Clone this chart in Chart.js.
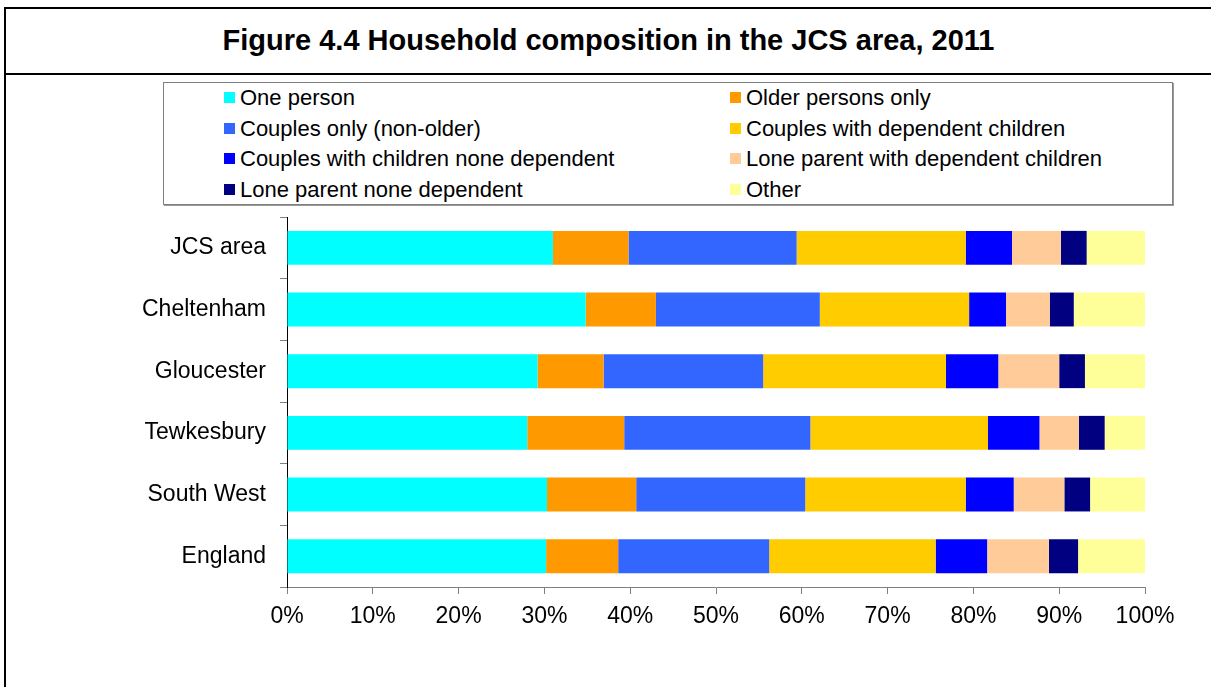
<!DOCTYPE html>
<html>
<head>
<meta charset="utf-8">
<script src="https://cdn.jsdelivr.net/npm/chart.js@4"></script>
<style>
  html, body { margin: 0; padding: 0; background: #fff; }
  body { width: 1211px; height: 687px; position: relative; overflow: hidden; font-family: "Liberation Sans", Arial, sans-serif; }
  #frame-left { position: absolute; left: 4px; top: 7px; width: 2px; height: 690px; background: #000; }
  #frame-top { position: absolute; left: 4px; top: 7px; width: 1220px; height: 2px; background: #000; }
  #frame-sep { position: absolute; left: 4px; top: 73px; width: 1220px; height: 2px; background: #000; }
  #title { position: absolute; left: 6px; right: 0; top: 24px; text-align: center; font-weight: bold; font-size: 29px; color: #000; }
  #legend { position: absolute; left: 163px; top: 82px; width: 1008px; height: 121px; border: 1px solid #808080; box-shadow: 1px 1px 0 #999; }
  .item { position: absolute; font-size: 22px; color: #000; white-space: nowrap; line-height: 24px; }
  .item span { display: inline-block; width: 11px; height: 11px; margin-right: 5px; vertical-align: 2px; }
  #wrap { position: absolute; left: 0; top: 0; width: 1211px; height: 687px; }
</style>
</head>
<body>
<div id="frame-left"></div>
<div id="frame-top"></div>
<div id="frame-sep"></div>
<div id="title">Figure 4.4 Household composition in the JCS area, 2011</div>
<div id="legend"></div>
<div id="wrap"><canvas id="chart" width="1211" height="687"></canvas></div>
<script>
// Household composition shares (%)
const areas = ["JCS area", "Cheltenham", "Gloucester", "Tewkesbury", "South West", "England"];
const seriesNames = [
  "One person", "Older persons only",
  "Couples only (non-older)", "Couples with dependent children",
  "Couples with children none dependent", "Lone parent with dependent children",
  "Lone parent none dependent", "Other"
];
const seriesColors = ["#00FFFF", "#FF9900", "#3366FF", "#FFCC00", "#0000FF", "#FFCC99", "#000080", "#FFFF99"];

const onePerson      = [31.0, 34.8, 29.2, 28.0, 30.3, 30.2];
const olderOnly      = [8.8, 8.2, 7.7, 11.3, 10.4, 8.4];
const couplesOnly    = [19.6, 19.1, 18.6, 21.7, 19.7, 17.6];
const couplesDepKids = [19.7, 17.4, 21.3, 20.7, 18.7, 19.4];
const couplesNonDep  = [5.4, 4.3, 6.1, 6.0, 5.6, 6.0];
const loneDepKids    = [5.7, 5.1, 7.1, 4.6, 5.9, 7.2];
const loneNonDep     = [3.0, 2.8, 3.0, 3.0, 3.0, 3.4];
const other          = [6.8, 8.3, 7.0, 4.7, 6.4, 7.8];

const seriesValues = [onePerson, olderOnly, couplesOnly, couplesDepKids, couplesNonDep, loneDepKids, loneNonDep, other];
const xTicks = [0, 10, 20, 30, 40, 50, 60, 70, 80, 90, 100];

// HTML legend in two columns, like the original
const legendBox = document.getElementById("legend");
seriesNames.forEach((name, i) => {
  const div = document.createElement("div");
  div.className = "item";
  div.style.left = (i % 2 === 0 ? 60 : 566) + "px";
  div.style.top = (3 + Math.floor(i / 2) * 30.7) + "px";
  div.innerHTML = `<span style="background:${seriesColors[i]}"></span>${name}`;
  legendBox.appendChild(div);
});

const font = { family: "'Liberation Sans', Arial, sans-serif", size: 23 };

new Chart(document.getElementById("chart"), {
  type: "bar",
  data: {
    labels: areas,
    datasets: seriesNames.map((name, i) => ({
      label: name,
      data: seriesValues[i],
      backgroundColor: seriesColors[i],
      borderWidth: 0,
      barPercentage: 0.55,
      categoryPercentage: 1
    }))
  },
  options: {
    indexAxis: "y",
    responsive: false,
    animation: false,
    layout: { padding: { left: 0, top: 217, right: 66, bottom: 0 } },
    plugins: { legend: { display: false }, tooltip: { enabled: false } },
    scales: {
      x: {
        stacked: true,
        min: 0,
        max: 100,
        afterBuildTicks: (scale) => { scale.ticks = xTicks.map(v => ({ value: v })); },
        afterFit: (scale) => { scale.height = 100; },
        border: { color: "#808080", width: 1 },
        grid: { drawOnChartArea: false, drawTicks: true, tickLength: 7, color: "#808080" },
        ticks: { color: "#000", font, padding: 9, callback: v => v + "%" }
      },
      y: {
        stacked: true,
        afterFit: (scale) => { scale.width = 287; },
        border: { color: "#000", width: 1 },
        grid: { drawOnChartArea: false, drawTicks: true, tickLength: 7, color: "#808080", offset: true },
        ticks: { color: "#000", font, padding: 14 }
      }
    }
  }
});
</script>
</body>
</html>
